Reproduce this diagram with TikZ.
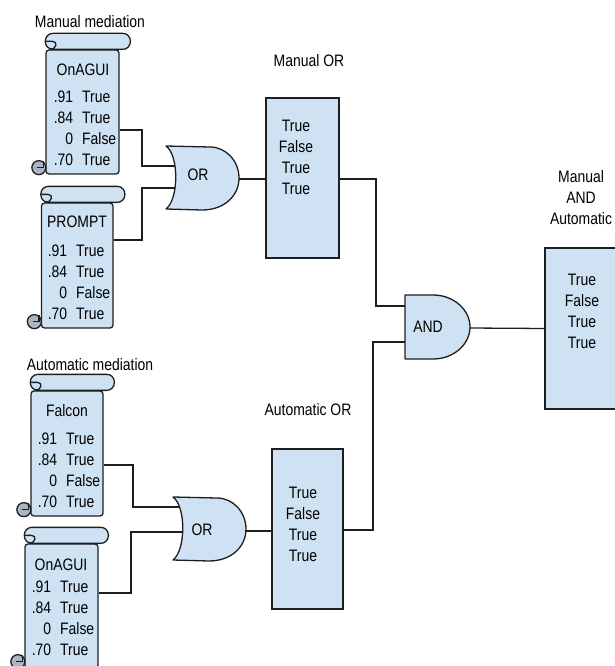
\documentclass[tikz,border=0pt]{standalone}
\usepackage{fontspec}
\setmainfont[FakeStretch=0.84]{Liberation Sans}
\usetikzlibrary{positioning, calc}
\definecolor{gatefill}{HTML}{CFE2F3}
\definecolor{curlfill}{HTML}{A9B5C2}
\definecolor{wirecol}{HTML}{1E1E1E}

\tikzset{
  base/.style={draw=wirecol, line width=1.3pt},
  wire/.style={draw=wirecol, line width=1.3pt},
  labeltext/.style={font=\fontsize{16.6}{21}\selectfont, inner sep=0pt, align=center},
  scrollbody/.style={base, fill=gatefill, rectangle, rounded corners=3pt, inner sep=0pt},
  resultbox/.style={base, fill=gatefill, rectangle, inner sep=0pt},
  gatebody/.style={base, fill=gatefill, line join=round}
}

% body node #1, left/top/right/bottom px #2-#5, roll overhang #6
\newcommand{\scrollbox}[6]{
  \node [scrollbody, minimum width=#4pt-#2pt, minimum height=#5pt-#3pt] (#1) at ({(#2+#4)/2},{(#3+#5)/2}) {};
  \draw [base, fill=gatefill, rounded corners=7.5pt] (#1.north west) -- ++(0,-16) -- ++(#4-#2+#6,0) -- ++(0,16) -- cycle;
  \draw [base, line cap=round] ($(#1.north west)+(1,-8)$) -- ($(#1.north west)+(7,-8)$) .. controls +(6,0) and +(6,0) .. ($(#1.north west)+(5,0)$);
  \draw [base, fill=curlfill] ($(#1.south west)+(-6.5,-7)$) circle (7);
  \draw [base] ($(#1.south west)+(-8,-7)$) -- ($(#1.south west)+(-2,-7)$) -- ($(#1.south west)+(-2,-14)$);
}
\newcommand{\orgate}[2]{
  \draw [gatebody] (#1,#2) .. controls (#1+13,#2+9) and (#1+13,#2+53) .. (#1,#2+63) -- (#1+36,#2+64) .. controls (#1+58,#2+64) and (#1+73,#2+50) .. (#1+73,#2+32) .. controls (#1+73,#2+15) and (#1+60,#2+1) .. (#1+44,#2+1) -- cycle;
}
\newcommand{\rowtable}{\begin{tabular}{@{}r@{\hspace{9pt}}l@{}}.91&True\\.84&True\\0&False\\.70&True\end{tabular}}

\begin{document}
\begin{tikzpicture}[x=1pt, y=-1pt]
  \useasboundingbox (0,0) rectangle (614,666);

  % wires sit under the gates
  \coordinate (orainx) at (142,166);
  \coordinate (orainy) at (142,188);
  \coordinate (orbinx) at (133,507);
  \coordinate (orbiny) at (131,532);
  \coordinate (orainp) at (178,166);
  \coordinate (orainq) at (178,188);
  \coordinate (orbinp) at (182,507);
  \coordinate (orbinq) at (186,532);
  \coordinate (andinx) at (376,306);
  \coordinate (andiny) at (373,342);

  % manual scrolls
  \scrollbox{agui}{46}{50}{119}{174}{12}
  \node [labeltext] (aguititle) at (83,70) {OnAGUI};
  \node [labeltext, anchor=north] (aguirows) at (85,88) {\rowtable};
  \scrollbox{prompt}{41.5}{203}{113}{328}{12.5}
  \node [labeltext] (prompttitle) at (77,222) {PROMPT};
  \node [labeltext, anchor=north] (promptrows) at (79,242) {\rowtable};

  % automatic scrolls
  \scrollbox{falcon}{31}{391}{103}{516}{12}
  \node [labeltext] (falcontitle) at (67,411) {Falcon};
  \node [labeltext, anchor=north] (falconrows) at (69,430) {\rowtable};
  \scrollbox{agui2}{25}{544}{98}{668}{11}
  \node [labeltext] (aguitwotitle) at (61,565) {OnAGUI};
  \node [labeltext, anchor=north] (aguitworows) at (63,578) {\rowtable};

  \draw [wire] (agui.east |- 0,130) -| (orainx) -- (orainp);
  \draw [wire] (prompt.east |- 0,240) -| (orainy) -- (orainq);
  \draw [wire] (falcon.east |- 0,465) -| (orbinx) -- (orbinp);
  \draw [wire] (agui2.east |- 0,593) -| (orbiny) -- (orbinq);

  % gates
  \orgate{166}{146}
  \node [labeltext] (ora) at (198,175) {OR};
  \orgate{173}{497}
  \node [labeltext] (orb) at (202,530) {OR};
  \draw [gatebody] (405,295) -- (433,295) .. controls (454,295) and (470,310) .. (470,327) .. controls (470,344) and (454,359) .. (433,359) -- (405,359) -- cycle;
  \node [labeltext] (andgate) at (428,327) {AND};

  % result boxes
  \node [resultbox, minimum width=73pt, minimum height=160pt] (manualor) at (302.5,178) {};
  \node [labeltext] (manualorrows) at (296,157) {True\\False\\True\\True};
  \node [resultbox, minimum width=71pt, minimum height=160pt] (autoor) at (307.5,529) {};
  \node [labeltext] (autoorrows) at (303,524) {True\\False\\True\\True};
  \node [resultbox, minimum width=80pt, minimum height=161pt] (bothand) at (585,328.5) {};
  \node [labeltext] (bothandrows) at (582,311.5) {True\\False\\True\\True};

  \node [labeltext] (manualhead) at (90,22) {Manual mediation};
  \node [labeltext] (autohead) at (90,365) {Automatic mediation};
  \node [labeltext] (manualorhead) at (309,61) {Manual OR};
  \node [labeltext] (autoorhead) at (308,410) {Automatic OR};
  \node [labeltext] (bothandhead) at (581,198) {Manual\\AND\\Automatic};

  \draw [wire] (239,179) -- (manualor.west |- 0,179);
  \draw [wire] (245,531) -- (autoor.west |- 0,531);
  \draw [wire] (manualor.east |- 0,179) -| (andinx) -- (405,306);
  \draw [wire] (autoor.east |- 0,530) -| (andiny) -- (405,342);
  \draw [wire] (470,328) -- (bothand.west);
\end{tikzpicture}
\end{document}
